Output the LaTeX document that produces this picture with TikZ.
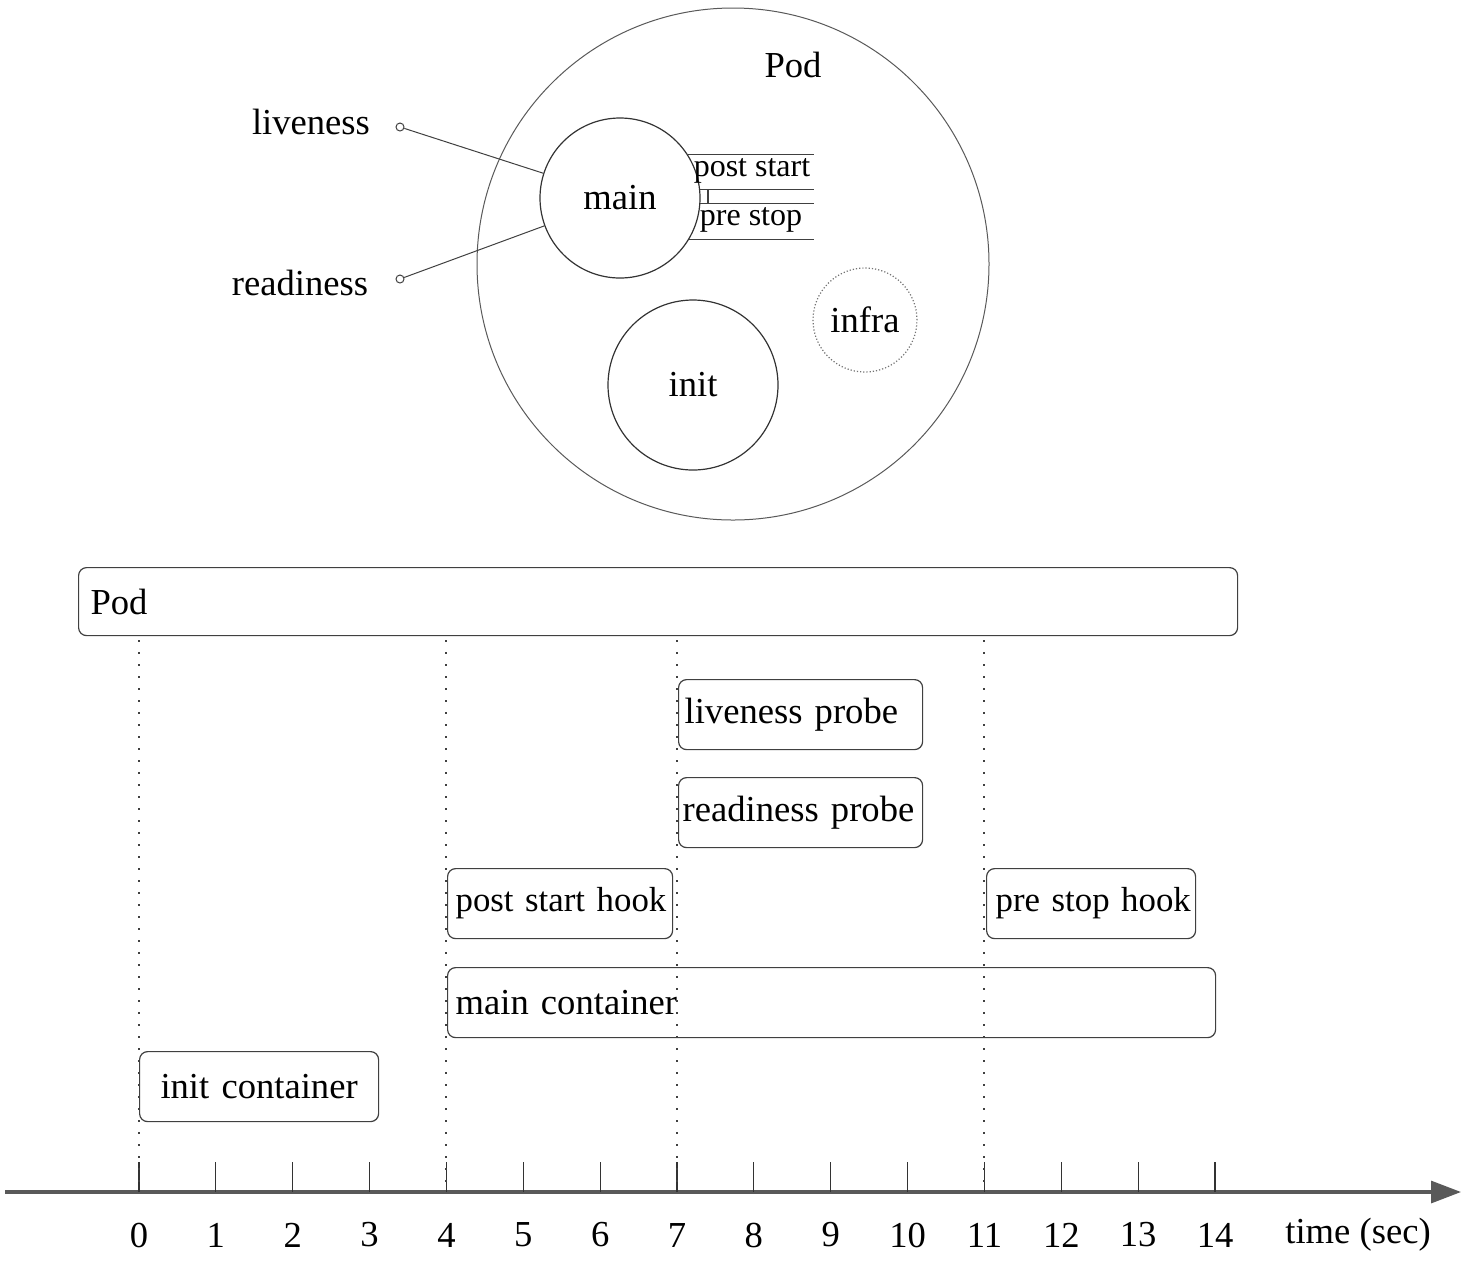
\documentclass[tikz,border=0pt]{standalone}
\usepackage{fontspec}
\setmainfont{Liberation Serif}
\usetikzlibrary{arrows.meta}
\begin{document}
\begin{tikzpicture}[x=0.5pt,y=-0.5pt,
  every node/.style={font=\fontsize{18.3}{22}\selectfont, inner sep=0pt},
  ring/.style={circle, draw=black!80, line width=0.6pt},
  bar/.style={draw=black!75, line width=0.6pt, rounded corners=4pt, anchor=north west, align=left, minimum height=35pt},
  hookbar/.style={bar, font=\fontsize{17.4}{21}\selectfont},
  hookline/.style={draw=black!75, line width=0.6pt},
  dotline/.style={black!75, line width=1pt, dash pattern=on 1pt off 5pt},
  tickline/.style={black!80, line width=0.6pt},
  hooklabel/.style={font=\fontsize{16}{19}\selectfont},
  probe/.style={draw=black!75, line width=0.5pt}
]
\useasboundingbox (0,0) rectangle (1462,1260);
% ---------- top: pod circle ----------
\node[circle, draw=black!65, line width=0.5pt, minimum size=256pt] (podc) at (733,264) {};
\node (podlbl) at (793,65) {Pod};
\node[ring, minimum size=80pt] (main) at (620,198) {main};
\node[ring, minimum size=85pt] (init) at (693,385) {init};
\node[circle, draw=black!55, line width=0.6pt, densely dotted, minimum size=52pt] (infra) at (865,320) {infra};
% probes
\node (live) at (311,122) {liveness};
\node (ready) at (300,283) {readiness};
\node[circle, draw=black!75, line width=0.5pt, minimum size=4pt] (ldot) at (400,127) {};
\node[circle, draw=black!75, line width=0.5pt, minimum size=4pt] (rdot) at (400,279) {};
\draw[probe] (ldot) -- (main);
\draw[probe] (rdot) -- (main);
% hooks
\coordinate (hkR) at (814,0);
\coordinate (hkT) at (708,0);
\draw[hookline] (main.33) -- (main.33 -| hkR);
\draw[hookline] (main.6) -- (main.6 -| hkR);
\draw[hookline] (main.-4) -- (main.-4 -| hkR);
\draw[hookline] (main.-31) -- (main.-31 -| hkR);
\draw[hookline] (main.6 -| hkT) -- (main.-4 -| hkT);
\node[hooklabel] (pslbl) at (752,171) {post start};
\node[hooklabel] (pslbl2) at (751,220) {pre stop};
% ---------- timeline ----------
\node[bar, inner xsep=6pt, text width=567.5pt, minimum height=34pt] (pod) at (78,567) {\mbox{Pod}};
\node[bar, inner xsep=3pt, text width=116pt] (lp) at (678,679) {\mbox{liveness probe}};
\node[bar, inner xsep=2pt, text width=118pt] (rp) at (678,777) {\mbox{readiness probe}};
\node[hookbar, inner xsep=4pt, text width=104.5pt] (psh) at (447,868) {\mbox{post start hook}};
\node[hookbar, inner xsep=4.5pt, text width=95.5pt] (prh) at (986,868) {\mbox{pre stop hook}};
\node[bar, inner xsep=4pt, text width=376pt] (mc) at (447,967) {\mbox{main container}};
\node[bar, inner xsep=3pt, text width=113.5pt, align=center] (ic) at (139,1051) {\mbox{init container}};
% axis
\coordinate (axL) at (5,1192);
\coordinate (axR) at (1461,1192);
\draw[black!65, line width=1.6pt, -{Triangle[length=15pt,width=11pt]}] (axL) -- (axR);
\foreach \i in {0,...,14}{
  \coordinate (t\i) at ({139+76.86*\i},1192);
  \draw[tickline] (t\i) -- ++(0,-30);
  \node (n\i) at ({139+76.86*\i},1235) {\i};
}
\node (tlbl) at (1358,1235) {time (sec)};
% dotted guides
\foreach \i in {0,4,7,11}{
  \draw[dotline] (t\i |- pod.south) ++(0,4) -- (t\i);
}
\end{tikzpicture}
\end{document}
